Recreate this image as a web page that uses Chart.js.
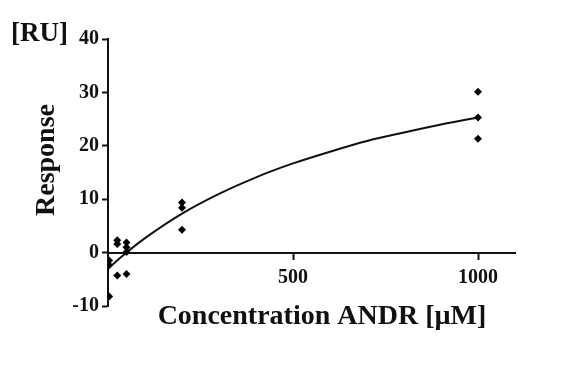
<!DOCTYPE html>
<html>
<head>
<meta charset="utf-8">
<script src="https://cdn.jsdelivr.net/npm/chart.js@4"></script>
<style>
  html, body { margin: 0; padding: 0; background: #fff; }
  canvas { display: block; }
</style>
</head>
<body>
<canvas id="chart" width="571" height="366"></canvas>
<script>
// measured points (concentration in µM, response in RU)
const concentrations = [3, 3, 3, 25, 25, 25, 50, 50, 50, 50, 200, 200, 200, 1000, 1000, 1000];
const responses = [-1.5, -2.3, -8.2, 2.3, 1.6, -4.3, 1.9, 1.0, 0.1, -4.0, 9.4, 8.4, 4.3, 30.1, 25.3, 21.3];

// fitted curve
const fitX = [0, 50, 100, 200, 300, 400, 500, 600, 700, 800, 900, 1000];
const fitY = [-3.0, 0.0, 2.7, 7.3, 11.0, 14.1, 16.7, 18.9, 20.9, 22.5, 24.0, 25.3];

const xTicks = [500, 1000];
const yTicks = [-10, 0, 10, 20, 30, 40];

const serif = "'Liberation Serif', 'DejaVu Serif', serif";

const pointData = concentrations.map((c, i) => ({ x: c, y: responses[i] }));
const fitData = fitX.map((c, i) => ({ x: c, y: fitY[i] }));

// axis titles and unit label
const titlesPlugin = {
  id: "titles",
  afterDraw(chart) {
    const ctx = chart.ctx;
    ctx.save();
    ctx.fillStyle = "#111";
    ctx.textBaseline = "middle";
    ctx.font = "bold 27px " + serif;
    ctx.textAlign = "left";
    ctx.fillText("[RU]", 11, 34);
    ctx.font = "bold 28px " + serif;
    ctx.textAlign = "center";
    ctx.fillText("Concentration ANDR [\u00b5M]", 322, 317);
    ctx.translate(47, 160);
    ctx.rotate(-Math.PI / 2);
    ctx.fillText("Response", 0, 0);
    ctx.restore();
  },
};

const ctx = document.getElementById("chart").getContext("2d");
new Chart(ctx, {
  type: "scatter",
  data: {
    datasets: [
      {
        data: pointData,
        pointStyle: "rectRot",
        pointRadius: 4,
        backgroundColor: "#000",
        borderColor: "#000",
        borderWidth: 0,
        order: 0,
      },
      {
        data: fitData,
        showLine: true,
        pointRadius: 0,
        borderColor: "#111",
        borderWidth: 2,
        cubicInterpolationMode: "monotone",
        order: 1,
      },
    ],
  },
  options: {
    responsive: false,
    animation: false,
    layout: { padding: { left: 0, top: 39, right: 56, bottom: 60 } },
    plugins: { legend: { display: false }, tooltip: { enabled: false } },
    scales: {
      x: {
        type: "linear",
        position: { y: 0 },
        min: 0,
        max: 1100,
        afterBuildTicks: (scale) => {
          scale.ticks = xTicks.map((v) => ({ value: v }));
        },
        grid: { drawOnChartArea: false, tickLength: 6, tickWidth: 2, tickColor: "#111" },
        border: { color: "#111", width: 2 },
        ticks: {
          color: "#111",
          padding: 7,
          font: { family: serif, size: 20, weight: "bold" },
          callback: (v) => String(v),
        },
      },
      y: {
        type: "linear",
        position: "left",
        min: -10,
        max: 40,
        afterBuildTicks: (scale) => {
          scale.ticks = yTicks.map((v) => ({ value: v }));
        },
        afterFit: (scale) => {
          scale.width = 108;
        },
        grid: { drawOnChartArea: false, tickLength: 6, tickWidth: 2, tickColor: "#111" },
        border: { color: "#111", width: 2 },
        ticks: {
          color: "#111",
          padding: 3,
          font: { family: serif, size: 20, weight: "bold" },
          callback: (v) => String(v),
        },
      },
    },
  },
  plugins: [titlesPlugin],
});
</script>
</body>
</html>
